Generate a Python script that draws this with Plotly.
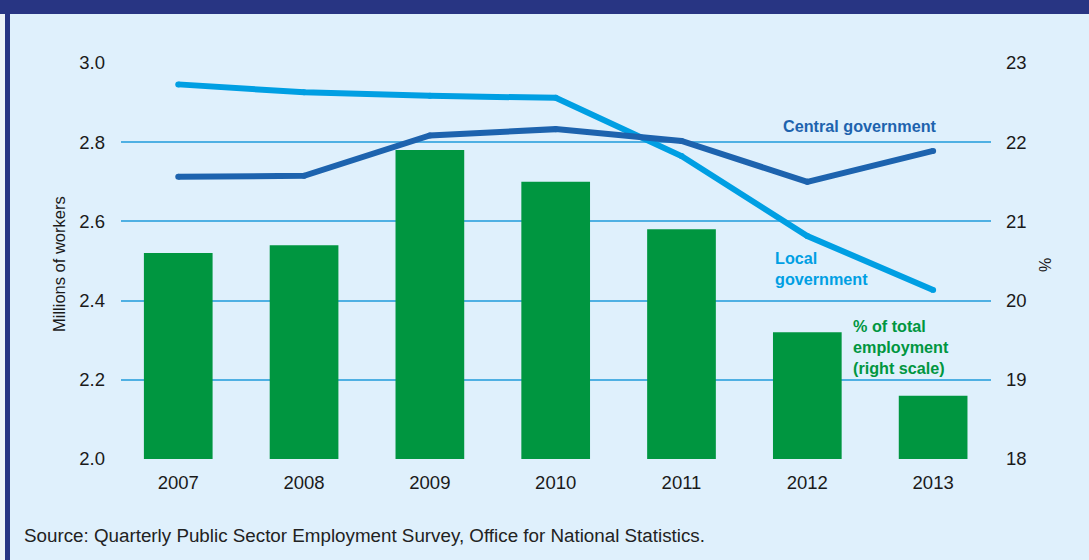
import plotly.graph_objects as go

# Data
years = ["2007", "2008", "2009", "2010", "2011", "2012", "2013"]
central_gov = [2.713, 2.715, 2.817, 2.833, 2.803, 2.700, 2.778]   # millions
local_gov = [2.946, 2.926, 2.917, 2.912, 2.765, 2.563, 2.427]     # millions
pct_total = [20.6, 20.7, 21.9, 21.5, 20.9, 19.6, 18.8]            # % of total employment

left_ticks = [2.0, 2.2, 2.4, 2.6, 2.8, 3.0]
right_ticks = [18, 19, 20, 21, 22, 23]

# Colours
BG = "#dff0fc"
NAVY = "#283583"
GREEN = "#009640"
LIGHT_BLUE = "#009fe3"
DARK_BLUE = "#1d63ae"
GRID = "#4fb0e3"
FONT = "Liberation Sans, Arial, sans-serif"

W, H = 1089, 560
PL, PR, PT, PB = 121, 991, 63, 459  # plot area in pixels


def px(x):
    return (x - PL) / (PR - PL)


def py(y):
    return (PB - y) / (PB - PT)


fig = go.Figure()

# Bars on the % scale (primary axis, drawn right)
fig.add_trace(go.Bar(
    x=years, y=pct_total, yaxis="y", marker=dict(color=GREEN, line=dict(width=0)),
    width=0.546, showlegend=False, hoverinfo="x+y",
))

# Lines on the millions scale (overlaying axis, drawn left)
for vals, col in [(local_gov, LIGHT_BLUE), (central_gov, DARK_BLUE)]:
    fig.add_trace(go.Scatter(
        x=years, y=vals, yaxis="y2", mode="lines+markers",
        line=dict(color=col, width=6),
        marker=dict(color=col, size=6, line=dict(width=0)),
        showlegend=False,
    ))

annotations = [
    dict(text="<b>Central government</b>", x=px(860), y=py(126), xanchor="center", yanchor="middle",
         font=dict(size=16.2, color=DARK_BLUE)),
    dict(text="<b>Local<br>government</b>", x=px(773), y=py(268.5), xanchor="left", yanchor="middle",
         align="left", font=dict(size=16.2, color=LIGHT_BLUE)),
    dict(text="<b>% of total<br>employment<br>(right scale)</b>", x=px(851), y=py(347), xanchor="left",
         yanchor="middle", align="left", font=dict(size=16.2, color=GREEN)),
    dict(text="Millions of workers", x=px(59), y=py(264), textangle=-90, xanchor="center",
         yanchor="middle", font=dict(size=16.5, color="#1a1a1a")),
    dict(text="%", x=px(1045), y=py(265), textangle=-90, xanchor="center", yanchor="middle",
         font=dict(size=16, color="#1a1a1a")),
    dict(text="Source: Quarterly Public Sector Employment Survey, Office for National Statistics.",
         x=px(22), y=py(535), xanchor="left", yanchor="middle", font=dict(size=18.8, color="#222222")),
]
for a in annotations:
    a.update(xref="paper", yref="paper", showarrow=False)

shapes = [
    # top banner
    dict(type="rect", x0=px(-2), x1=px(W + 2), y0=py(14), y1=py(-2), fillcolor=NAVY, line=dict(width=0)),
    # pale margin and navy stripe on the left edge
    dict(type="rect", x0=px(-2), x1=px(5), y0=py(H + 2), y1=py(14), fillcolor="#eef3f8", line=dict(width=0)),
    dict(type="rect", x0=px(5), x1=px(10), y0=py(H + 2), y1=py(14), fillcolor=NAVY, line=dict(width=0)),
]
for s in shapes:
    s.update(xref="paper", yref="paper", layer="below")

fig.update_layout(
    width=W, height=H,
    margin=dict(l=PL, r=W - PR, t=PT, b=H - PB, pad=0),
    paper_bgcolor=BG, plot_bgcolor=BG,
    font=dict(family=FONT, size=18, color="#1a1a1a"),
    bargap=0.2,
    xaxis=dict(
        type="category", range=[-0.455, 6.46], showgrid=False, zeroline=False, showline=False,
        ticks="", ticklabelstandoff=10, tickfont=dict(size=18.5),
    ),
    yaxis=dict(
        side="right", range=[18, 23], tickvals=right_ticks, ticktext=[str(t) for t in right_ticks],
        showgrid=True, gridcolor=GRID, gridwidth=1.5, zeroline=False, showline=False, ticks="",
        ticklabelstandoff=14, tickfont=dict(size=18.5),
    ),
    yaxis2=dict(
        overlaying="y", side="left", range=[2.0, 3.0], tickvals=left_ticks,
        ticktext=[f"{t:.1f}" for t in left_ticks], showgrid=False, zeroline=False, showline=False,
        ticks="", ticklabelstandoff=15, tickfont=dict(size=18.5),
    ),
    annotations=annotations,
    shapes=shapes,
)

fig.write_html("out.html")
